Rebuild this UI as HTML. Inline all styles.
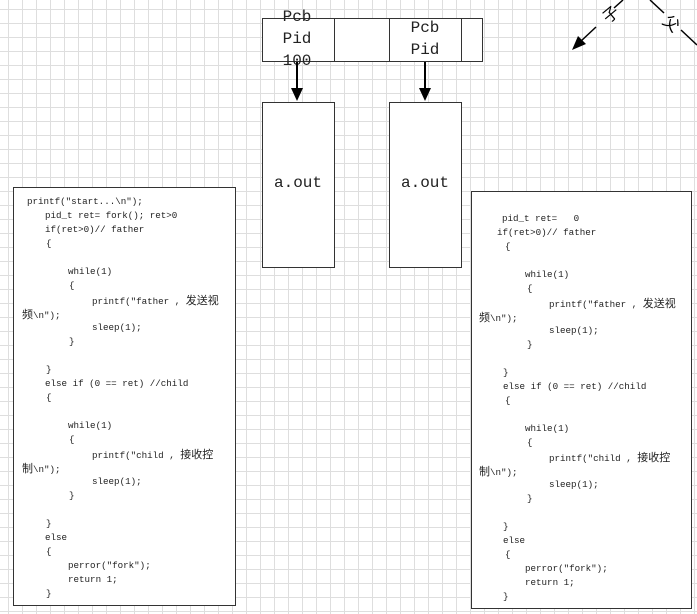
<!DOCTYPE html>
<html><head><meta charset="utf-8"><style>
body{margin:0;width:697px;height:614px;overflow:hidden;position:relative;background-color:#fff;
background-image:linear-gradient(to right,#dedede 1px,transparent 1px),linear-gradient(to bottom,#dedede 1px,transparent 1px);
background-size:14px 14px;background-position:8px 9px;font-family:"Liberation Serif","Noto Serif CJK SC",serif;}
.b{position:absolute;border:1px solid #333;background:#fff;box-sizing:border-box}
.t{position:absolute;font-size:16px;color:#222;text-align:center;font-family:"Liberation Mono","Noto Sans CJK SC",monospace;transform:translateX(-50%);white-space:nowrap}
.c{position:absolute;font-family:"Liberation Mono","Noto Sans CJK SC",monospace;font-size:9.2px;line-height:14px;height:14px;white-space:pre;color:#222}
.c i{font-style:normal;font-size:11px;font-family:"Noto Sans CJK SC",sans-serif}
</style></head><body>
<div class="b" style="left:262px;top:18px;width:221px;height:44px"></div>
<div style="position:absolute;left:334px;top:18px;width:1px;height:44px;background:#333"></div>
<div style="position:absolute;left:389px;top:18px;width:1px;height:44px;background:#333"></div>
<div style="position:absolute;left:461px;top:18px;width:1px;height:44px;background:#333"></div>
<div class="b" style="left:262px;top:102px;width:73px;height:166px"></div>
<div class="b" style="left:389px;top:102px;width:73px;height:166px"></div>
<div class="t" style="left:297px;top:6px;line-height:22px">Pcb<br>Pid<br>100</div>
<div class="t" style="left:425px;top:17px;line-height:22px">Pcb<br>Pid</div>
<div class="t" style="left:298px;top:174px">a.out</div>
<div class="t" style="left:425px;top:174px">a.out</div>
<svg width="697" height="614" style="position:absolute;left:0;top:0">
<line x1="297" y1="62" x2="297" y2="90" stroke="#000" stroke-width="2"/>
<polygon points="291,88 303,88 297,101" fill="#000"/>
<line x1="425" y1="62" x2="425" y2="90" stroke="#000" stroke-width="2"/>
<polygon points="419,88 431,88 425,101" fill="#000"/>
<line x1="623" y1="0" x2="614" y2="8" stroke="#000" stroke-width="1.5"/>
<line x1="596" y1="27" x2="580" y2="42" stroke="#000" stroke-width="1.5"/>
<polygon points="572,50 578,36 586,44" fill="#000"/>
<line x1="650" y1="0" x2="664" y2="13" stroke="#000" stroke-width="1.5"/>
<line x1="681" y1="30" x2="697" y2="45" stroke="#000" stroke-width="1.5"/>
<text x="605" y="25" font-size="16" transform="rotate(-40 605 20)" font-family="Noto Sans CJK SC">子</text>
<text x="664" y="28" font-size="16" transform="rotate(40 670 22)" font-family="Noto Sans CJK SC">父</text>
</svg>
<div class="b" style="left:13px;top:187px;width:223px;height:419px"></div>
<div class="b" style="left:471px;top:191px;width:221px;height:418px"></div>
<div class="c" style="left:27px;top:195px">printf("start...\n");</div>
<div class="c" style="left:45px;top:209px">pid_t ret= fork(); ret&gt;0</div>
<div class="c" style="left:45px;top:223px">if(ret&gt;0)// father</div>
<div class="c" style="left:46px;top:237px">{</div>
<div class="c" style="left:68px;top:265px">while(1)</div>
<div class="c" style="left:69px;top:279px">{</div>
<div class="c" style="left:92px;top:293px">printf("father , <i>发送视</i></div>
<div class="c" style="left:22px;top:307px"><i>频</i>\n");</div>
<div class="c" style="left:92px;top:321px">sleep(1);</div>
<div class="c" style="left:69px;top:335px">}</div>
<div class="c" style="left:46px;top:363px">}</div>
<div class="c" style="left:45px;top:377px">else if (0 == ret) //child</div>
<div class="c" style="left:46px;top:391px">{</div>
<div class="c" style="left:68px;top:419px">while(1)</div>
<div class="c" style="left:69px;top:433px">{</div>
<div class="c" style="left:92px;top:447px">printf("child , <i>接收控</i></div>
<div class="c" style="left:22px;top:461px"><i>制</i>\n");</div>
<div class="c" style="left:92px;top:475px">sleep(1);</div>
<div class="c" style="left:69px;top:489px">}</div>
<div class="c" style="left:46px;top:517px">}</div>
<div class="c" style="left:45px;top:531px">else</div>
<div class="c" style="left:46px;top:545px">{</div>
<div class="c" style="left:68px;top:559px">perror("fork");</div>
<div class="c" style="left:68px;top:573px">return 1;</div>
<div class="c" style="left:46px;top:587px">}</div>

<div class="c" style="left:502px;top:212px">pid_t ret=   0</div>
<div class="c" style="left:497px;top:226px">if(ret&gt;0)// father</div>
<div class="c" style="left:505px;top:240px">{</div>
<div class="c" style="left:525px;top:268px">while(1)</div>
<div class="c" style="left:527px;top:282px">{</div>
<div class="c" style="left:549px;top:296px">printf("father , <i>发送视</i></div>
<div class="c" style="left:479px;top:310px"><i>频</i>\n");</div>
<div class="c" style="left:549px;top:324px">sleep(1);</div>
<div class="c" style="left:527px;top:338px">}</div>
<div class="c" style="left:503px;top:366px">}</div>
<div class="c" style="left:503px;top:380px">else if (0 == ret) //child</div>
<div class="c" style="left:505px;top:394px">{</div>
<div class="c" style="left:525px;top:422px">while(1)</div>
<div class="c" style="left:527px;top:436px">{</div>
<div class="c" style="left:549px;top:450px">printf("child , <i>接收控</i></div>
<div class="c" style="left:479px;top:464px"><i>制</i>\n");</div>
<div class="c" style="left:549px;top:478px">sleep(1);</div>
<div class="c" style="left:527px;top:492px">}</div>
<div class="c" style="left:503px;top:520px">}</div>
<div class="c" style="left:503px;top:534px">else</div>
<div class="c" style="left:505px;top:548px">{</div>
<div class="c" style="left:525px;top:562px">perror("fork");</div>
<div class="c" style="left:525px;top:576px">return 1;</div>
<div class="c" style="left:503px;top:590px">}</div>
</body></html>
